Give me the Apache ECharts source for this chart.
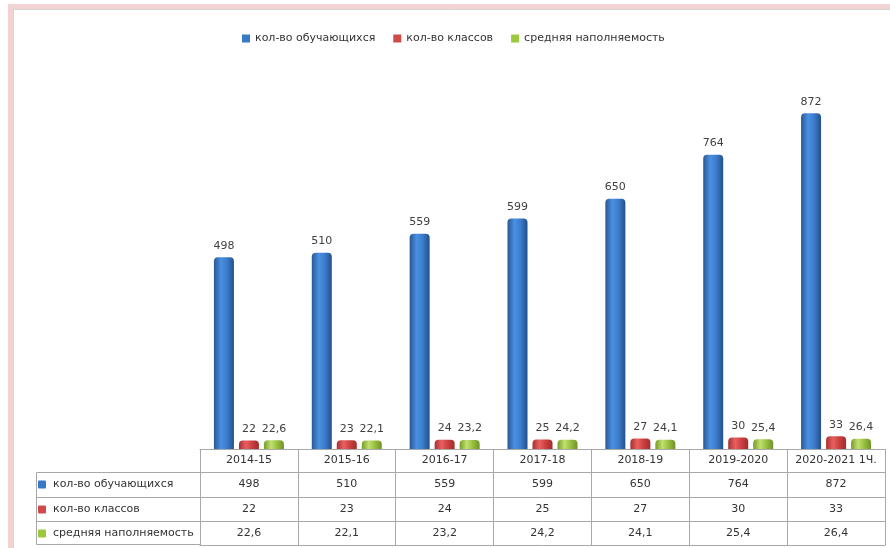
<!DOCTYPE html>
<html>
<head>
<meta charset="utf-8">
<script src="https://cdn.jsdelivr.net/npm/echarts@6/dist/echarts.min.js"></script>
<style>html,body{margin:0;padding:0;background:#fff;}#c{width:890px;height:548px;}</style>
</head>
<body>
<div id="c"></div>
<script>
var categories = ['2014-15', '2015-16', '2016-17', '2017-18', '2018-19', '2019-2020', '2020-2021 1Ч.'];
var seriesNames = ['кол-во обучающихся', 'кол-во классов', 'средняя наполняемость'];
var students = [498, 510, 559, 599, 650, 764, 872];
var classes = [22, 23, 24, 25, 27, 30, 33];
var avgFill = [22.6, 22.1, 23.2, 24.2, 24.1, 25.4, 26.4];

var fmt = function (v) { return String(v).replace('.', ','); };
var baseColors = ['#3a78c8', '#d04a4a', '#9cc83c'];
var grads = [
  ['#285894', '#4a90e2', '#3c7ccc', '#24508a'],
  ['#a83030', '#e86060', '#cc4040', '#a02c2c'],
  ['#789c28', '#c0e070', '#98c040', '#70922a']
];
function grad(g) {
  return new echarts.graphic.LinearGradient(0, 0, 1, 0, [
    {offset: 0, color: g[0]}, {offset: 0.35, color: g[1]}, {offset: 0.65, color: g[2]}, {offset: 1, color: g[3]}
  ]);
}
var lineCol = '#a8a8a8';
var font = 'DejaVu Sans';
var txt = '#333';

function rowAxis(data, offset, name, color) {
  return {
    type: 'category', position: 'bottom', offset: offset, data: data,
    axisLine: {show: true, lineStyle: {color: lineCol, width: 1}},
    axisTick: {show: false},
    axisLabel: {interval: 0, margin: 7, fontSize: 11, color: txt, fontFamily: font},
    name: name ? '{i|}{t|' + name + '}' : '',
    nameLocation: 'start', nameGap: 162,
    nameTextStyle: {
      align: 'left', verticalAlign: 'top', padding: [7, 0, 0, 0],
      rich: {
        i: {width: 8, height: 8, backgroundColor: color, borderRadius: 1},
        t: {fontSize: 11, color: txt, fontFamily: font, padding: [0, 0, 0, 7]}
      }
    }
  };
}

var chart = echarts.init(document.getElementById('c'));
chart.setOption({
  backgroundColor: '#fff',
  animation: false,
  legend: {
    top: 28, left: 237, itemWidth: 8, itemHeight: 8, itemGap: 18, icon: 'rect',
    textStyle: {fontSize: 11, color: txt, fontFamily: font},
    data: seriesNames.map(function (n, i) { return {name: n, itemStyle: {color: baseColors[i]}}; })
  },
  grid: {left: 200, right: 5, top: 64, bottom: 99},
  yAxis: {type: 'value', min: 0, max: 1000, show: false},
  xAxis: [
    {
      type: 'category', position: 'bottom', offset: 0, data: categories,
      axisLine: {show: true, lineStyle: {color: lineCol, width: 1}},
      axisTick: {show: true, interval: 0, length: 96, lineStyle: {color: lineCol, width: 1}},
      axisLabel: {interval: 0, margin: 6, fontSize: 11, color: txt, fontFamily: font}
    },
    rowAxis(students.map(fmt), 23, seriesNames[0], baseColors[0]),
    rowAxis(classes.map(fmt), 48, seriesNames[1], baseColors[1]),
    rowAxis(avgFill.map(fmt), 72, seriesNames[2], baseColors[2]),
    {
      type: 'category', position: 'bottom', offset: 96, data: categories,
      axisLine: {show: true, lineStyle: {color: lineCol, width: 1}},
      axisTick: {show: false}, axisLabel: {show: false}
    }
  ],
  series: [students, classes, avgFill].map(function (d, i) {
    return {
      name: seriesNames[i], type: 'bar', xAxisIndex: 0, data: d,
      barWidth: 20, barGap: '25%',
      itemStyle: {color: grad(grads[i]), borderRadius: [4, 4, 0, 0]},
      label: {show: true, position: 'top', distance: 6, fontSize: 11, color: '#404040', fontFamily: font, formatter: function (p) { return fmt(p.value); }}
    };
  }),
  graphic: [
    {type: 'line', shape: {x1: 8, y1: 6.5, x2: 890, y2: 6.5}, style: {stroke: '#f2d2d2', lineWidth: 5}, silent: true},
    {type: 'line', shape: {x1: 10.5, y1: 4, x2: 10.5, y2: 548}, style: {stroke: '#f2d2d2', lineWidth: 5}, silent: true},
    {type: 'line', shape: {x1: 13, y1: 9.5, x2: 890, y2: 9.5}, style: {stroke: '#d4d4d4', lineWidth: 1}, silent: true},
    {type: 'line', shape: {x1: 13.5, y1: 9, x2: 13.5, y2: 548}, style: {stroke: '#d4d4d4', lineWidth: 1}, silent: true},
    {type: 'rect', shape: {x: 36.5, y: 472.5, width: 164, height: 72}, style: {fill: 'none', stroke: lineCol, lineWidth: 1}, silent: true},
    {type: 'line', shape: {x1: 36, y1: 497.5, x2: 200, y2: 497.5}, style: {stroke: lineCol, lineWidth: 1}, silent: true},
    {type: 'line', shape: {x1: 36, y1: 521.5, x2: 200, y2: 521.5}, style: {stroke: lineCol, lineWidth: 1}, silent: true}
  ]
});
</script>
</body>
</html>
